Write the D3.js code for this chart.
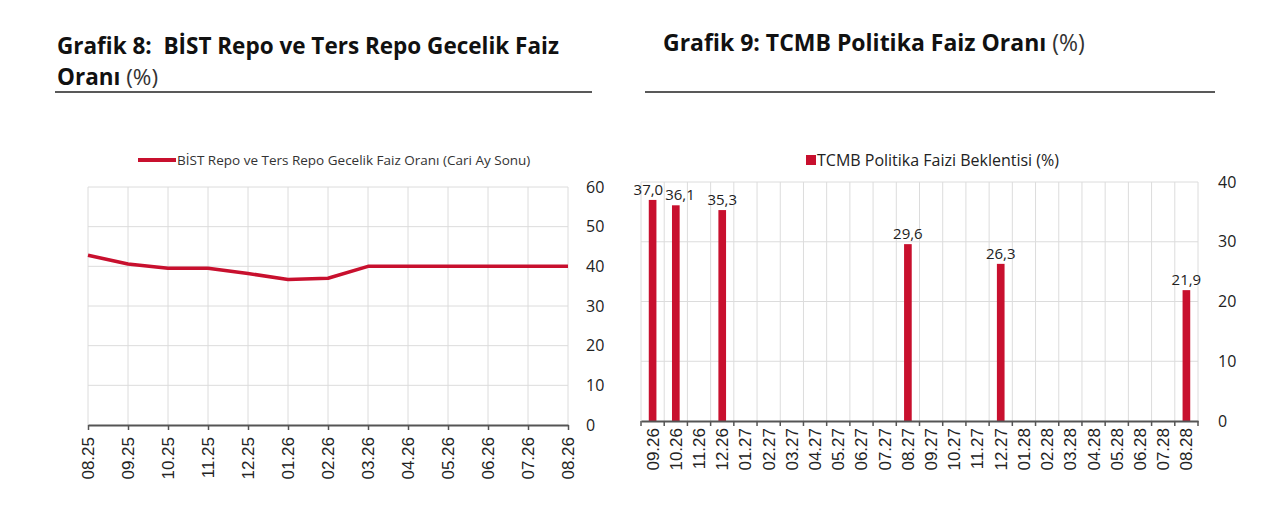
<!DOCTYPE html>
<html><head><meta charset="utf-8">
<script src="https://cdn.jsdelivr.net/npm/d3@7"></script>
<style>body{margin:0;background:#fff}svg{display:block}</style>
</head><body>
<svg id="c" width="1280" height="520"></svg>
<script>
const lineMonths = ["08.25","09.25","10.25","11.25","12.25","01.26","02.26","03.26","04.26","05.26","06.26","07.26","08.26"];
const lineValues = [42.8,40.6,39.5,39.5,38.2,36.7,37.0,40,40,40,40,40,40];
const lineTicks = [0,10,20,30,40,50,60];
const lineLegend = "BİST Repo ve Ters Repo Gecelik Faiz Oranı (Cari Ay Sonu)";

const barMonths = ["09.26","10.26","11.26","12.26","01.27","02.27","03.27","04.27","05.27","06.27","07.27","08.27","09.27","10.27","11.27","12.27","01.28","02.28","03.28","04.28","05.28","06.28","07.28","08.28"];
const barValues = [37.0,36.1,null,35.3,null,null,null,null,null,null,null,29.6,null,null,null,26.3,null,null,null,null,null,null,null,21.9];
const barTicks = [0,10,20,30,40];
const barLegend = "TCMB Politika Faizi Beklentisi (%)";

const RED = "#c8102e";
const GRID = "#dcdcdc";
const svg = d3.select("#c");
const trLocale = d3.formatLocale({decimal: ",", thousands: ".", grouping: [3], currency: ["", ""]});
const fmt = trLocale.format(".1f");

// ---------- Titles ----------
svg.append("text").attr("x", 57).attr("y", 54).attr("xml:space", "preserve").style("white-space", "pre")
  .style("font-family", "'Open Sans', sans-serif").style("font-size", "22.5px").style("font-weight", "700").attr("fill", "#111")
  .text("Grafik 8:  BİST Repo ve Ters Repo Gecelik Faiz");
const t1b = svg.append("text").attr("x", 57).attr("y", 85).attr("xml:space", "preserve").style("white-space", "pre")
  .style("font-family", "'Open Sans', sans-serif").style("font-size", "22.5px").attr("fill", "#111");
t1b.append("tspan").style("font-weight", "700").text("Oranı");
t1b.append("tspan").style("font-weight", "400").attr("fill", "#333").text(" (%)");
svg.append("line").attr("x1", 55).attr("x2", 592).attr("y1", 92).attr("y2", 92).attr("stroke", "#222").attr("stroke-width", 1.5);

const t2 = svg.append("text").attr("x", 663).attr("y", 51).attr("xml:space", "preserve").style("white-space", "pre")
  .style("font-family", "'Open Sans', sans-serif").style("font-size", "23px").attr("fill", "#111");
t2.append("tspan").style("font-weight", "700").text("Grafik 9: TCMB Politika Faiz Oranı");
t2.append("tspan").style("font-weight", "400").attr("fill", "#333").text(" (%)");
svg.append("line").attr("x1", 645).attr("x2", 1215).attr("y1", 92).attr("y2", 92).attr("stroke", "#222").attr("stroke-width", 1.5);

// ---------- Chart 1: line ----------
{
  const L = 88, R = 568, T = 187, B = 425;
  const x = d3.scalePoint().domain(lineMonths).range([L, R]);
  const y = d3.scaleLinear().domain([0, 60]).range([B, T]);
  const g = svg.append("g");
  g.selectAll("line.hg").data(lineTicks.filter(d => d > 0)).join("line")
    .attr("x1", L).attr("x2", R).attr("y1", d => y(d)).attr("y2", d => y(d))
    .attr("stroke", GRID).attr("stroke-width", 1);
  g.selectAll("line.vg").data(lineMonths).join("line")
    .attr("x1", d => x(d)).attr("x2", d => x(d)).attr("y1", T).attr("y2", B)
    .attr("stroke", GRID).attr("stroke-width", 1);
  const ya = g.append("g").attr("transform", `translate(${R + 14},0)`)
    .call(d3.axisRight(y).tickValues(lineTicks).tickSize(0).tickPadding(4));
  ya.select(".domain").remove();
  ya.selectAll("text").style("font-family", "'Open Sans', sans-serif").style("font-size", "16px").attr("fill", "#222");
  const xa = g.append("g").attr("transform", `translate(0,${B})`)
    .call(d3.axisBottom(x).tickSize(5).tickSizeOuter(0));
  xa.select(".domain").attr("stroke", "#555").attr("stroke-width", 2);
  xa.selectAll(".tick line").attr("stroke", "#555").attr("stroke-width", 1.5);
  xa.selectAll("text").attr("transform", "rotate(-90)").attr("text-anchor", "end")
    .attr("x", -12).attr("y", 0).attr("dy", "0.35em")
    .style("font-family", "'Liberation Sans', Arial, sans-serif").style("font-size", "17px").attr("fill", "#222");
  g.append("path").datum(lineValues)
    .attr("d", d3.line().x((d, i) => x(lineMonths[i])).y(d => y(d)))
    .attr("fill", "none").attr("stroke", RED).attr("stroke-width", 3.5).attr("stroke-linejoin", "round");
  g.append("line").attr("x1", 138).attr("x2", 176).attr("y1", 160).attr("y2", 160).attr("stroke", RED).attr("stroke-width", 4);
  g.append("text").attr("x", 177).attr("y", 160).attr("dy", "0.35em")
    .style("font-family", "'Open Sans', sans-serif").style("font-size", "13.5px").attr("fill", "#333").text(lineLegend);
}

// ---------- Chart 2: bars ----------
{
  const L = 641, R = 1198, T = 182, B = 421;
  const x = d3.scaleBand().domain(barMonths).range([L, R]).paddingInner(0.67).paddingOuter(0.335);
  const xb = d3.scaleBand().domain(barMonths).range([L, R]);
  const y = d3.scaleLinear().domain([0, 40]).range([B, T]);
  const g = svg.append("g");
  const bounds = barMonths.map(d => xb(d)).concat([R]);
  g.selectAll("line.hg").data(barTicks.filter(d => d > 0)).join("line")
    .attr("x1", L).attr("x2", R).attr("y1", d => y(d)).attr("y2", d => y(d))
    .attr("stroke", GRID).attr("stroke-width", 1);
  g.selectAll("line.vg").data(bounds).join("line")
    .attr("x1", d => d).attr("x2", d => d).attr("y1", T).attr("y2", B)
    .attr("stroke", GRID).attr("stroke-width", 1);
  const data = barMonths.map((m, i) => ({m, v: barValues[i]})).filter(d => d.v != null);
  g.selectAll("rect.bar").data(data).join("rect")
    .attr("x", d => x(d.m)).attr("width", x.bandwidth())
    .attr("y", d => y(d.v)).attr("height", d => B - y(d.v)).attr("fill", RED);
  const labels = g.selectAll("text.lbl").data(data).join("text")
    .attr("text-anchor", "middle")
    .style("font-family", "'Open Sans', sans-serif").style("font-size", "15px").attr("fill", "#222")
    .text(d => fmt(d.v))
    .attr("y", d => y(d.v) - 5);
  const nodes = labels.nodes();
  const pos = data.map(d => x(d.m) + x.bandwidth() / 2);
  const w = nodes.map(n => n.getComputedTextLength());
  for (let i = 1; i < pos.length; i++) {
    const gap = (pos[i] - w[i] / 2) - (pos[i - 1] + w[i - 1] / 2) - 2;
    if (gap < 0) { pos[i - 1] += gap / 2; pos[i] -= gap / 2; }
  }
  labels.attr("x", (d, i) => pos[i]);
  const ya = g.append("g").attr("transform", `translate(${R + 16},0)`)
    .call(d3.axisRight(y).tickValues(barTicks).tickSize(0).tickPadding(4));
  ya.select(".domain").remove();
  ya.selectAll("text").style("font-family", "'Open Sans', sans-serif").style("font-size", "16px").attr("fill", "#222");
  const xa = g.append("g").attr("transform", `translate(0,${B})`)
    .call(d3.axisBottom(xb).tickSize(0).tickPadding(0));
  xa.select(".domain").attr("stroke", "#555").attr("stroke-width", 2);
  xa.selectAll("text").attr("transform", "rotate(-90)").attr("text-anchor", "end")
    .attr("x", -7).attr("y", 0).attr("dy", "0.35em")
    .style("font-family", "'Liberation Sans', Arial, sans-serif").style("font-size", "17px").attr("fill", "#222");
  g.selectAll("line.tk").data(bounds).join("line")
    .attr("x1", d => d).attr("x2", d => d).attr("y1", B).attr("y2", B + 5)
    .attr("stroke", "#555").attr("stroke-width", 1.5);
  g.append("rect").attr("x", 806).attr("y", 155).attr("width", 10).attr("height", 10).attr("fill", RED);
  g.append("text").attr("x", 817).attr("y", 160).attr("dy", "0.35em")
    .style("font-family", "'Open Sans', sans-serif").style("font-size", "16px").attr("fill", "#222").text(barLegend);
}
</script>
</body></html>
